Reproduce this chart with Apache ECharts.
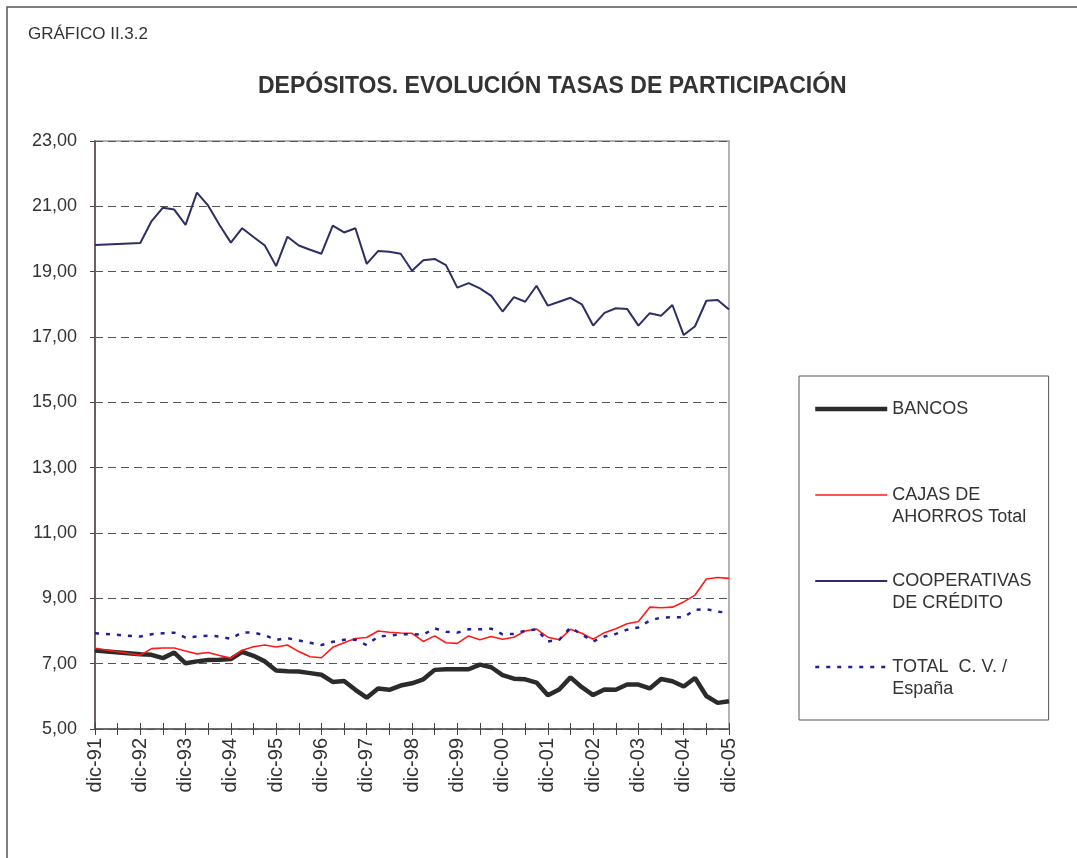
<!DOCTYPE html>
<html>
<head>
<meta charset="utf-8">
<script src="https://cdn.jsdelivr.net/npm/echarts@6/dist/echarts.min.js"></script>
<style>
html,body{margin:0;padding:0;background:#fff;}
#chart{width:1077px;height:858px;}
</style>
</head>
<body>
<div id="chart"></div>
<script>
var categories = ['dic-91','mar-92','jun-92','sep-92','dic-92','mar-93','jun-93','sep-93','dic-93','mar-94','jun-94','sep-94','dic-94','mar-95','jun-95','sep-95','dic-95','mar-96','jun-96','sep-96','dic-96','mar-97','jun-97','sep-97','dic-97','mar-98','jun-98','sep-98','dic-98','mar-99','jun-99','sep-99','dic-99','mar-00','jun-00','sep-00','dic-00','mar-01','jun-01','sep-01','dic-01','mar-02','jun-02','sep-02','dic-02','mar-03','jun-03','sep-03','dic-03','mar-04','jun-04','sep-04','dic-04','mar-05','jun-05','sep-05','dic-05'];

var bancos = [7.40,null,null,null,7.29,7.27,7.17,7.34,7.01,7.07,7.11,7.12,7.14,7.36,7.24,7.07,6.79,6.77,6.76,6.71,6.66,6.44,6.47,6.20,5.96,6.24,6.20,6.33,6.40,6.52,6.81,6.83,6.83,6.83,6.97,6.89,6.65,6.54,6.52,6.42,6.03,6.21,6.58,6.28,6.04,6.21,6.20,6.36,6.36,6.24,6.53,6.46,6.30,6.56,6.01,5.80,5.85];

var cajas = [7.47,null,null,null,7.26,7.46,7.48,7.48,7.39,7.30,7.34,7.25,7.17,7.41,7.52,7.57,7.51,7.57,7.37,7.21,7.18,7.50,7.64,7.77,7.80,8.00,7.96,7.94,7.93,7.68,7.85,7.64,7.62,7.85,7.73,7.83,7.75,7.81,8.00,8.06,7.81,7.73,8.05,7.93,7.75,7.95,8.07,8.22,8.29,8.73,8.71,8.73,8.89,9.10,9.59,9.64,9.61];

var cooperativas = [19.82,null,null,null,19.88,20.55,20.96,20.90,20.43,21.42,21.02,20.43,19.89,20.33,20.06,19.80,19.17,20.07,19.80,19.67,19.55,20.41,20.20,20.33,19.24,19.63,19.61,19.55,19.03,19.35,19.39,19.20,18.51,18.65,18.49,18.26,17.78,18.22,18.08,18.57,17.96,18.08,18.20,18.00,17.35,17.74,17.88,17.86,17.35,17.73,17.65,17.98,17.06,17.33,18.11,18.13,17.84];

var totalCV = [7.93,null,null,null,7.83,7.90,7.93,7.95,7.80,7.83,7.86,7.83,7.76,7.96,7.95,7.87,7.73,7.78,7.71,7.64,7.57,7.67,7.73,7.73,7.57,7.83,7.86,7.90,7.90,7.89,8.08,7.98,7.95,8.05,8.05,8.07,7.90,7.91,8.01,8.05,7.68,7.73,8.11,7.89,7.68,7.83,7.91,8.04,8.11,8.32,8.41,8.42,8.42,8.65,8.67,8.59,8.56];

var seriesNames = ['BANCOS','CAJAS DE AHORROS Total','COOPERATIVAS DE CRÉDITO','TOTAL  C. V. / España'];
var legendLabels = ['\nBANCOS\n','\nCAJAS DE\nAHORROS Total','\nCOOPERATIVAS\nDE CRÉDITO','\nTOTAL  C. V. /\nEspaña'];
var yTicks = {min:5, max:23, interval:2};

var FONT = "'Liberation Sans', Arial, sans-serif";
var chart = echarts.init(document.getElementById('chart'), null, {renderer:'canvas'});

var lineW = [4.5, 1.6, 2, 2.5];

var option = {
  backgroundColor:'#ffffff',
  animation:false,
  graphic:[{type:'rect', shape:{x:7,y:7,width:1200,height:1000}, style:{fill:'none', stroke:'#555', lineWidth:1.5}, silent:true, z:-10}],
  title:[
    {text:'GRÁFICO II.3.2', left:23, top:21, textStyle:{fontFamily:FONT, fontSize:17, fontWeight:'normal', color:'#333'}},
    {text:'DEPÓSITOS. EVOLUCIÓN TASAS DE PARTICIPACIÓN', left:253, top:70, textStyle:{fontFamily:FONT, fontSize:23, fontWeight:'bold', color:'#333'}}
  ],
  legend:{
    orient:'vertical', left:799, top:376,
    padding:[0,17,20,14],
    itemGap:20, itemWidth:72, itemHeight:14,
    borderColor:'#555', borderWidth:1,
    itemStyle:{opacity:0},
    data:seriesNames.map(function(n,i){ return {name:n, lineStyle:{width:lineW[i]}}; }),
    formatter:function(n){ return legendLabels[seriesNames.indexOf(n)]; },
    textStyle:{fontFamily:FONT, fontSize:18, color:'#333', lineHeight:22}
  },
  grid:[
    {left:95, right:348, top:141, bottom:129, show:true, borderColor:'#a09894', borderWidth:1.5, backgroundColor:'#fff'},
    {left:95, right:348, top:141, bottom:129}
  ],
  xAxis:[
    {type:'category', gridIndex:0, data:categories, boundaryGap:false,
     axisLine:{lineStyle:{color:'#555', width:1.5}},
     axisTick:{interval:1, length:6, lineStyle:{color:'#444', width:1}},
     axisLabel:{interval:3, rotate:90, fontFamily:FONT, fontSize:20, color:'#333', margin:9},
     splitLine:{show:false}},
    {type:'category', gridIndex:1, data:categories, boundaryGap:false, position:'bottom',
     axisLine:{show:false},
     axisTick:{interval:1, inside:true, length:6, lineStyle:{color:'#444', width:1}},
     axisLabel:{show:false}, splitLine:{show:false}}
  ],
  yAxis:[
    {type:'value', gridIndex:0, min:yTicks.min, max:yTicks.max, interval:yTicks.interval,
     axisLine:{show:true, lineStyle:{color:'#6b6060', width:2}},
     axisTick:{show:true, length:5, lineStyle:{color:'#444'}},
     axisLabel:{fontFamily:FONT, fontSize:18, color:'#333', margin:18,
       formatter:function(v){ return v.toFixed(2).replace('.', ','); }},
     splitLine:{lineStyle:{color:'#555', type:[8,5], width:1}}},
    {type:'value', gridIndex:1, min:yTicks.min, max:yTicks.max, interval:yTicks.interval, show:false}
  ],
  series:[
    {name:seriesNames[0], type:'line', data:bancos, connectNulls:true, showSymbol:false, symbol:'none',
     lineStyle:{color:'#2b2b2b', width:lineW[0]}, itemStyle:{color:'#2b2b2b'}, z:2},
    {name:seriesNames[1], type:'line', data:cajas, connectNulls:true, showSymbol:false, symbol:'none',
     lineStyle:{color:'#ff1a1a', width:lineW[1]}, itemStyle:{color:'#ff1a1a'}, z:3},
    {name:seriesNames[2], type:'line', data:cooperativas, connectNulls:true, showSymbol:false, symbol:'none',
     lineStyle:{color:'#2e2e66', width:lineW[2]}, itemStyle:{color:'#2e2e66'}, z:3},
    {name:seriesNames[3], type:'line', data:totalCV, connectNulls:true, showSymbol:false, symbol:'none',
     lineStyle:{color:'#1f1f99', width:lineW[3], type:[4,7]}, itemStyle:{color:'#1f1f99'}, z:4}
  ]
};
chart.setOption(option);
</script>
</body>
</html>
